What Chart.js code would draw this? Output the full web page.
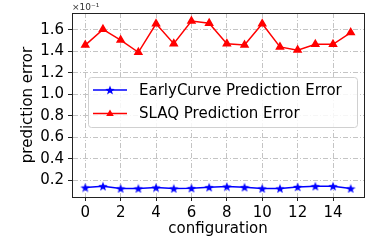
<!DOCTYPE html>
<html>
<head>
<meta charset="utf-8">
<script src="https://cdn.jsdelivr.net/npm/chart.js@4.4.1/dist/chart.umd.min.js"></script>
<style>
  html, body { margin: 0; padding: 0; background: #fff; }
  #wrap { width: 374px; height: 249px; }
</style>
</head>
<body>
<div id="wrap"><canvas id="c" width="374" height="249"></canvas></div>
<script>
const configs = [0, 1, 2, 3, 4, 5, 6, 7, 8, 9, 10, 11, 12, 13, 14, 15]
// values shown in units of 1e-1 (see axis multiplier)
const earlyCurveError = [0.133, 0.145, 0.124, 0.124, 0.133, 0.124, 0.127, 0.136, 0.142, 0.136, 0.124, 0.124, 0.139, 0.145, 0.145, 0.124]
const slaqError = [1.457, 1.603, 1.503, 1.39, 1.655, 1.47, 1.68, 1.66, 1.47, 1.457, 1.655, 1.44, 1.41, 1.464, 1.464, 1.573]
const xTicks = [0, 2, 4, 6, 8, 10, 12, 14]
const yTicks = [0.2, 0.4, 0.6, 0.8, 1.0, 1.2, 1.4, 1.6]
const seriesLabels = ['EarlyCurve Prediction Error', 'SLAQ Prediction Error']
const yMultiplier = '×10⁻¹'

const FONT = 'DejaVu Sans'

// filled 5-point star like matplotlib's '*'
function makeStar (color, size) {
  const c = document.createElement('canvas')
  c.width = size
  c.height = size
  const g = c.getContext('2d')
  const R = size / 2
  const r = R * 0.42
  g.beginPath()
  for (let i = 0; i < 10; i++) {
    const rad = i % 2 === 0 ? R : r
    const a = -Math.PI / 2 + i * Math.PI / 5
    const px = R + rad * Math.cos(a)
    const py = R + rad * Math.sin(a) + size * 0.05
    if (i === 0) g.moveTo(px, py)
    else g.lineTo(px, py)
  }
  g.closePath()
  g.fillStyle = color
  g.fill()
  return c
}
const blueStar = makeStar('#0000ff', 10)

const toPoints = (ys) => ys.map((y, i) => ({ x: configs[i], y }))

const frameBox = {
  id: 'frameBox',
  beforeDatasetsDraw (chart) {
    const { ctx, chartArea: a } = chart
    ctx.save()
    ctx.strokeStyle = '#222'
    ctx.lineWidth = 1
    ctx.setLineDash([])
    ctx.strokeRect(Math.round(a.left) + 0.5, Math.round(a.top) + 0.5, Math.round(a.right - a.left), Math.round(a.bottom - a.top))
    ctx.fillStyle = '#333'
    ctx.font = '9px "' + FONT + '"'
    ctx.textBaseline = 'bottom'
    ctx.textAlign = 'left'
    ctx.fillText(yMultiplier, a.left, a.top - 1)
    ctx.restore()
  }
}

const boxLegend = {
  id: 'boxLegend',
  afterDatasetsDraw (chart) {
    const { ctx } = chart
    const x0 = 88, y0 = 77, w = 269, h = 50
    ctx.save()
    ctx.beginPath()
    ctx.roundRect(x0 + 0.5, y0 + 0.5, w, h, 3)
    ctx.fillStyle = 'rgba(255,255,255,0.85)'
    ctx.fill()
    ctx.strokeStyle = '#d0d0d0'
    ctx.lineWidth = 1
    ctx.stroke()
    chart.data.datasets.forEach((ds, i) => {
      const yy = y0 + 13 + i * 23.5
      ctx.beginPath()
      ctx.moveTo(x0 + 5, yy)
      ctx.lineTo(x0 + 39, yy)
      ctx.strokeStyle = ds.borderColor
      ctx.lineWidth = 1.5
      ctx.stroke()
      const mx = x0 + 22
      if (ds.pointStyle === 'triangle') {
        const r = ds.pointRadius
        ctx.beginPath()
        ctx.moveTo(mx, yy - r)
        ctx.lineTo(mx + r * 0.95, yy + r * 0.6)
        ctx.lineTo(mx - r * 0.95, yy + r * 0.6)
        ctx.closePath()
        ctx.fillStyle = ds.borderColor
        ctx.fill()
      } else {
        ctx.drawImage(ds.pointStyle, mx - 5, yy - 5)
      }
      ctx.fillStyle = '#000'
      ctx.font = '15px "' + FONT + '"'
      ctx.textBaseline = 'middle'
      ctx.textAlign = 'left'
      ctx.fillText(ds.label, x0 + 51, yy + 1)
    })
    ctx.restore()
  }
}

const gridStyle = {
  color: '#c4c4c4',
  lineWidth: 1,
  drawTicks: true,
  tickLength: 4,
  tickColor: '#222',
  tickBorderDash: [1, 0],
  tickWidth: 1
}
const borderStyle = { display: true, color: '#222', width: 1, dash: [5, 2, 1, 2] }

new Chart(document.getElementById('c'), {
  type: 'line',
  data: {
    datasets: [
      {
        label: seriesLabels[0],
        data: toPoints(earlyCurveError),
        borderColor: '#0000ff',
        backgroundColor: '#0000ff',
        borderWidth: 1.5,
        pointStyle: blueStar,
        pointRadius: 5
      },
      {
        label: seriesLabels[1],
        data: toPoints(slaqError),
        borderColor: '#ff0000',
        backgroundColor: '#ff0000',
        borderWidth: 1.5,
        pointStyle: 'triangle',
        pointRadius: 4
      }
    ]
  },
  options: {
    animation: false,
    responsive: false,
    devicePixelRatio: 1,
    layout: { padding: { left: 0, top: 9, right: 10, bottom: 0 } },
    plugins: { legend: { display: false }, tooltip: { enabled: false } },
    scales: {
      x: {
        type: 'linear',
        min: -0.75,
        max: 15.75,
        afterBuildTicks (s) { s.ticks = xTicks.map(v => ({ value: v })) },
        afterFit (s) { s.height = 52 },
        grid: gridStyle,
        border: borderStyle,
        ticks: {
          color: '#000',
          padding: 3,
          maxRotation: 0,
          font: { family: FONT, size: 15 },
          callback: (v) => String(v)
        },
        title: {
          display: true,
          text: 'configuration',
          color: '#000',
          font: { family: FONT, size: 15 },
          padding: { top: 0, bottom: 11 }
        }
      },
      y: {
        min: 0.045,
        max: 1.755,
        afterBuildTicks (s) { s.ticks = yTicks.map(v => ({ value: v })) },
        afterFit (s) { s.width = 72 },
        grid: gridStyle,
        border: borderStyle,
        ticks: {
          color: '#000',
          padding: 4,
          font: { family: FONT, size: 15 },
          callback: (v) => v.toFixed(1)
        },
        title: {
          display: true,
          text: 'prediction error',
          color: '#000',
          font: { family: FONT, size: 15 },
          padding: { top: 19, bottom: 0 }
        }
      }
    }
  },
  plugins: [frameBox, boxLegend]
})
</script>
</body>
</html>
